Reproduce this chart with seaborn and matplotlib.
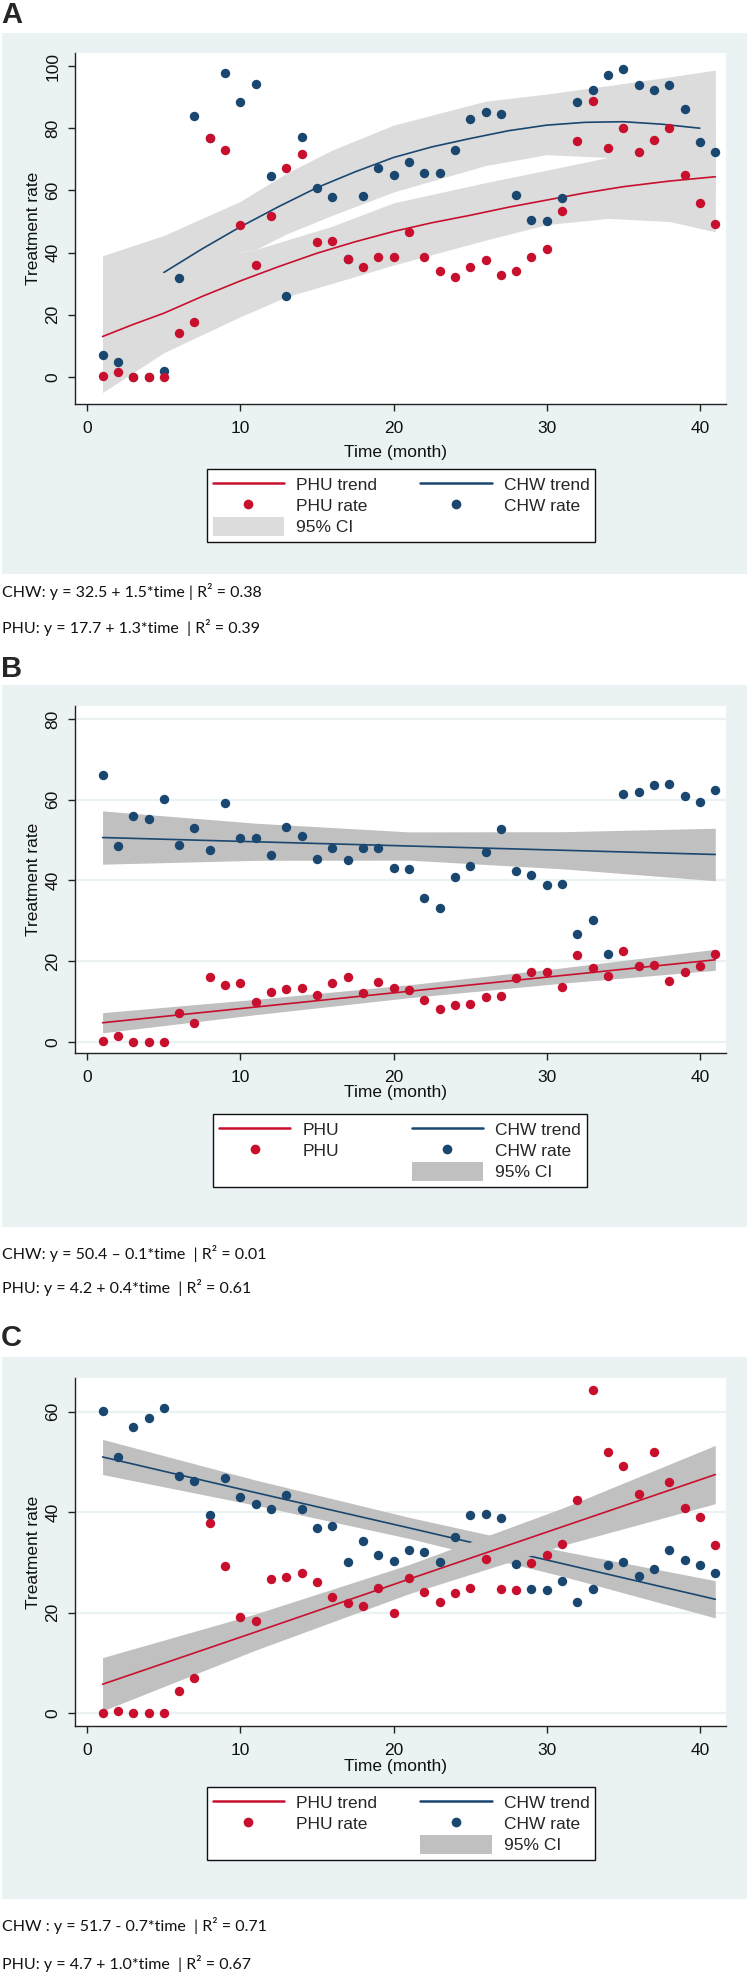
import matplotlib
matplotlib.use("Agg")
import matplotlib.pyplot as plt
import matplotlib.patches as mpatches
from matplotlib.lines import Line2D
import seaborn as sns

months = list(range(1, 42))

# ---------------- Panel A ----------------
a_chw_rate = [7.1, 4.7, 0.0, 0.0, 1.9, 31.9, 84.0, 76.8, 97.9, 88.5,
              94.1, 64.7, 26.0, 77.1, 60.9, 57.9, 37.8, 58.2, 67.1, 65.1,
              69.2, 65.5, 65.7, 73.0, 83.0, 85.1, 84.5, 58.5, 50.5, 50.2,
              57.4, 88.5, 92.3, 97.1, 98.9, 93.8, 92.3, 93.8, 86.1, 75.5, 72.3]
a_phu_rate = [0.4, 1.7, 0.1, 0.1, 0.1, 14.0, 17.8, 77.0, 73.0, 48.9,
              36.0, 51.8, 67.1, 71.7, 43.3, 43.6, 37.8, 35.4, 38.7, 38.5,
              46.7, 38.5, 34.1, 32.3, 35.4, 37.5, 32.9, 34.1, 38.7, 41.2,
              53.3, 75.8, 88.9, 73.7, 80.0, 72.3, 76.2, 80.0, 64.8, 56.1, 49.2]
a_chw_trend_t = [5, 7.5, 10, 12.5, 15, 17.5, 20, 22.5, 25, 27.5, 30, 32.5, 35, 37.5, 40]
a_chw_trend = [33.6, 41.2, 48.3, 54.8, 60.9, 66.0, 70.6, 74.0, 76.7, 79.2, 81.0,
               81.9, 82.1, 81.3, 80.0]
a_phu_trend_t = [1, 3, 5, 7.5, 10, 12.5, 15, 17.5, 20, 22.5, 25, 27.5, 30, 32.5,
                 35, 38, 41]
a_phu_trend = [13.0, 16.9, 20.5, 25.9, 30.9, 35.5, 39.8, 43.5, 46.8, 49.6, 52.0,
               54.6, 56.9, 59.2, 61.2, 63.0, 64.4]
a_band_t = [1, 5, 10, 11, 13, 16, 20, 26, 30, 34, 38, 41]
a_chw_lo = [-1.0, 22.3, 40.1, 41.0, 46.0, 52.0, 59.5, 68.0, 71.5, 70.6, 66.0, 60.0]
a_chw_hi = [39.0, 45.5, 56.5, 59.5, 65.5, 73.0, 81.0, 88.7, 91.0, 93.7, 96.5, 98.7]
a_phu_lo = [-5.0, 7.8, 19.4, 21.5, 25.8, 30.1, 36.0, 44.0, 49.0, 51.0, 50.0, 46.7]
a_phu_hi = [31.0, 33.5, 40.0, 41.0, 44.0, 48.5, 56.0, 62.5, 66.5, 70.6, 76.0, 82.0]

# ---------------- Panel B ----------------
b_chw_rate = [66.0, 48.6, 56.0, 55.3, 60.1, 48.8, 52.9, 47.5, 59.1, 50.6,
              50.6, 46.2, 53.1, 51.0, 45.2, 48.0, 45.0, 48.0, 48.0, 43.1,
              42.8, 35.6, 33.2, 40.7, 43.6, 46.9, 52.6, 42.4, 41.2, 38.8,
              39.0, 26.6, 30.2, 21.7, 61.4, 62.0, 63.6, 63.8, 60.9, 59.3, 62.5]
b_phu_rate = [0.2, 1.5, 0.0, 0.0, 0.0, 7.2, 4.6, 16.0, 14.0, 14.5,
              9.8, 12.4, 13.0, 13.2, 11.6, 14.5, 16.1, 12.1, 14.8, 13.2,
              12.9, 10.3, 8.1, 9.2, 9.4, 11.2, 11.3, 15.9, 17.2, 17.2,
              13.5, 21.5, 18.2, 16.4, 22.6, 18.8, 19.0, 15.1, 17.2, 18.8, 21.7]
b_fit_t = [1, 11, 21, 31, 41]
b_chw_trend = [50.6, 49.55, 48.5, 47.45, 46.4]
b_chw_lo = [44.0, 44.95, 45.0, 42.85, 39.9]
b_chw_hi = [57.2, 54.15, 52.0, 52.05, 52.9]
b_phu_trend = [4.7, 8.6, 12.5, 16.4, 20.3]
b_phu_lo = [2.2, 6.7, 10.9, 14.5, 17.7]
b_phu_hi = [7.2, 10.5, 14.1, 18.3, 22.9]

# ---------------- Panel C ----------------
c_chw_rate = [60.1, 51.0, 57.0, 58.8, 60.8, 47.3, 46.3, 39.4, 46.9, 43.1,
              41.7, 40.7, 43.5, 40.7, 36.9, 37.2, 30.2, 34.3, 31.5, 30.4,
              32.5, 32.1, 30.2, 35.0, 39.5, 39.6, 38.8, 29.8, 24.7, 24.5,
              26.3, 22.1, 24.7, 29.6, 30.2, 27.4, 28.7, 32.5, 30.6, 29.6, 28.0]
c_phu_rate = [0.0, 0.5, 0.0, 0.0, 0.0, 4.5, 7.1, 37.9, 29.4, 19.2,
              18.3, 26.7, 27.2, 28.0, 26.1, 23.1, 22.0, 21.4, 25.0, 20.0,
              27.0, 24.1, 22.1, 23.9, 24.9, 30.8, 24.7, 24.5, 30.0, 31.5,
              33.7, 42.4, 64.4, 52.0, 49.2, 43.7, 52.0, 46.1, 40.8, 39.0, 33.5]
c_fit_t = [1, 11, 21, 31, 41]
c_chw_trend = [51.0, 43.9, 36.9, 29.8, 22.7]
c_chw_lo = [47.5, 41.4, 34.8, 27.3, 19.0]
c_chw_hi = [54.5, 46.4, 39.0, 32.3, 26.4]
c_phu_trend = [5.8, 16.2, 26.7, 37.1, 47.5]
c_phu_lo = [0.5, 12.6, 23.8, 33.4, 41.7]
c_phu_hi = [11.1, 19.8, 29.6, 40.8, 53.3]

a_equations = ["CHW: y = 32.5 + 1.5*time | R\u00b2 = 0.38",
               "PHU: y = 17.7 + 1.3*time  | R\u00b2 = 0.39"]
b_equations = ["CHW: y = 50.4 \u2013 0.1*time  | R\u00b2 = 0.01",
               "PHU: y = 4.2 + 0.4*time  | R\u00b2 = 0.61"]
c_equations = ["CHW : y = 51.7 - 0.7*time  | R\u00b2 = 0.71",
               "PHU: y = 4.7 + 1.0*time  | R\u00b2 = 0.67"]

RED = "#c8102e"
BLUE = "#1a476f"
BG = "#eaf2f3"
W, H = 749, 1973

sns.set_theme(style="white")
plt.rcParams["font.family"] = ["Liberation Sans", "DejaVu Sans"]


def fx(px):
    return px / W


def fy(py):
    return 1 - py / H


fig = plt.figure(figsize=(W / 100, H / 100), dpi=100)
fig.patch.set_facecolor("white")


def draw_panel(p):
    left, top, right, bottom = p["box"]
    # grey-blue panel background
    fig.add_artist(mpatches.Rectangle((fx(2), fy(p["bg"][1])), fx(745),
                                      (p["bg"][1] - p["bg"][0]) / H,
                                      transform=fig.transFigure, color=BG,
                                      lw=0, zorder=-5))
    ax = fig.add_axes([fx(left), fy(bottom), fx(right - left), (bottom - top) / H])
    ax.set_facecolor("white")

    ax.fill_between(p["chw_band_t"], p["chw_lo"], p["chw_hi"],
                    color=p["band"], lw=0, zorder=1)
    sns.lineplot(x=p["chw_t"], y=p["chw_fit"], color=BLUE, lw=1.2, ax=ax, zorder=2)
    ax.fill_between(p["phu_band_t"], p["phu_lo"], p["phu_hi"],
                    color=p["band"], lw=0, zorder=3)
    sns.lineplot(x=p["phu_t"], y=p["phu_fit"], color=RED, lw=1.2, ax=ax, zorder=4)
    sns.scatterplot(x=months, y=p["chw_rate"], color=BLUE, s=46, linewidth=0,
                    ax=ax, zorder=5)
    sns.scatterplot(x=months, y=p["phu_rate"], color=RED, s=46, linewidth=0,
                    ax=ax, zorder=6)

    ax.set_xlim(-0.8, 41.7)
    ax.set_ylim(*p["ylim"])
    ax.set_xticks(range(0, 41, 10))
    ax.set_yticks(p["yticks"])
    for s in ["top", "right"]:
        ax.spines[s].set_visible(False)
    for s in ["left", "bottom"]:
        ax.spines[s].set_color("#222222")
        ax.spines[s].set_linewidth(1.0)
    ax.tick_params(axis="both", direction="out", length=5, width=1,
                   color="#222222", labelsize=12.5, labelcolor="#111111")
    ax.tick_params(axis="x", pad=7, bottom=True)
    ax.tick_params(axis="y", pad=5.5, left=True, labelrotation=90)
    for lab in ax.get_yticklabels():
        lab.set_va("center")
    if p["grid"]:
        ax.yaxis.grid(True, color=BG, lw=1.6, zorder=0)
    else:
        ax.grid(False)
    ax.set_axisbelow(True)

    ax.set_xlabel("Time (month)", fontsize=12.5, color="#111111")
    ax.xaxis.label.set_va("center")
    ax.xaxis.set_label_coords(0.492, (bottom - p["xlabel_y"]) / (bottom - top))
    ax.set_ylabel("Treatment rate", fontsize=12.5, color="#111111")
    ax.yaxis.label.set_va("center")
    ax.yaxis.set_label_coords((33 - left) / (right - left), 0.5)

    # legend
    phu_line = Line2D([], [], color=RED, lw=1.8)
    chw_line = Line2D([], [], color=BLUE, lw=1.8)
    phu_dot = Line2D([], [], color=RED, marker="o", ls="none", ms=7, mew=0)
    chw_dot = Line2D([], [], color=BLUE, marker="o", ls="none", ms=7, mew=0)
    ci = mpatches.Patch(color=p["band"], lw=0)
    blank = Line2D([], [], ls="none")
    if p["ci_first"]:
        handles = [phu_line, phu_dot, ci, chw_line, chw_dot, blank]
        labels = [p["phu_labels"][0], p["phu_labels"][1], "95% CI",
                  "CHW trend", "CHW rate", ""]
    else:
        handles = [phu_line, phu_dot, blank, chw_line, chw_dot, ci]
        labels = [p["phu_labels"][0], p["phu_labels"][1], "",
                  "CHW trend", "CHW rate", "95% CI"]
    leg = fig.legend(handles, labels, ncol=2, loc="upper center",
                     bbox_to_anchor=(fx(p["legend"][0]), fy(p["legend"][1])),
                     frameon=True, fancybox=False, framealpha=1,
                     facecolor="white", edgecolor="#111111", fontsize=12.5,
                     handlelength=4.1, handleheight=1.3, handletextpad=0.7,
                     columnspacing=p["colsp"], labelspacing=0.12,
                     borderpad=0.35, borderaxespad=0)
    leg.get_frame().set_linewidth(1.0)

    fig.text(fx(1), fy(p["letter_y"]), p["letter"], fontsize=21,
             fontweight="bold", va="center", ha="left",
             family=["Liberation Sans Narrow", "Liberation Sans", "DejaVu Sans"])
    for txt, yy in zip(p["eq"], p["eq_y"]):
        fig.text(fx(2), fy(yy), txt, fontsize=11.5, va="center", ha="left",
                 color="#111111", family=["Lato", "DejaVu Sans"])
    return ax


panels = [
    dict(letter="A", letter_y=15, bg=(33, 574), box=(75, 53, 726, 404),
         ylim=(-8.7, 104.2), yticks=range(0, 101, 20), grid=False,
         band="#dcdcdc", xlabel_y=453, legend=(401, 469), colsp=2.5,
         ci_first=True, phu_labels=("PHU trend", "PHU rate"),
         eq=a_equations, eq_y=(592, 628),
         chw_rate=a_chw_rate, phu_rate=a_phu_rate,
         chw_t=a_chw_trend_t, chw_fit=a_chw_trend,
         phu_t=a_phu_trend_t, phu_fit=a_phu_trend,
         chw_band_t=a_band_t, chw_lo=a_chw_lo, chw_hi=a_chw_hi,
         phu_band_t=a_band_t, phu_lo=a_phu_lo, phu_hi=a_phu_hi),
    dict(letter="B", letter_y=669, bg=(685, 1227), box=(75, 706, 726, 1053),
         ylim=(-2.8, 83.2), yticks=range(0, 81, 20), grid=True,
         band="#c0c0c0", xlabel_y=1093, legend=(400, 1114), colsp=4.2,
         ci_first=False, phu_labels=("PHU", "PHU"),
         eq=b_equations, eq_y=(1253, 1288),
         chw_rate=b_chw_rate, phu_rate=b_phu_rate,
         chw_t=b_fit_t, chw_fit=b_chw_trend,
         phu_t=b_fit_t, phu_fit=b_phu_trend,
         chw_band_t=b_fit_t, chw_lo=b_chw_lo, chw_hi=b_chw_hi,
         phu_band_t=b_fit_t, phu_lo=b_phu_lo, phu_hi=b_phu_hi),
    dict(letter="C", letter_y=1338, bg=(1357, 1899), box=(75, 1378, 726, 1726),
         ylim=(-2.5, 66.7), yticks=range(0, 61, 20), grid=True,
         band="#c0c0c0", xlabel_y=1766, legend=(401, 1787), colsp=2.5,
         ci_first=False, phu_labels=("PHU trend", "PHU rate"),
         eq=c_equations, eq_y=(1926, 1963),
         chw_rate=c_chw_rate, phu_rate=c_phu_rate,
         chw_t=c_fit_t, chw_fit=c_chw_trend,
         phu_t=c_fit_t, phu_fit=c_phu_trend,
         chw_band_t=c_fit_t, chw_lo=c_chw_lo, chw_hi=c_chw_hi,
         phu_band_t=c_fit_t, phu_lo=c_phu_lo, phu_hi=c_phu_hi),
]

for p in panels:
    draw_panel(p)

fig.savefig("out.png", dpi=100, facecolor="white")
